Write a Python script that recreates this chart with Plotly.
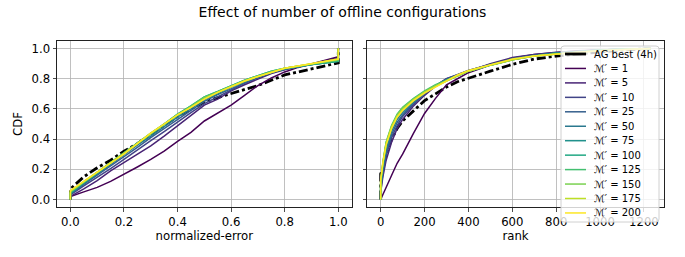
import plotly.graph_objects as go

# ---------------- data ----------------
series_names = ["AG best (4h)", "ℳ′ = 1", "ℳ′ = 5", "ℳ′ = 10", "ℳ′ = 25", "ℳ′ = 50",
                "ℳ′ = 75", "ℳ′ = 100", "ℳ′ = 125", "ℳ′ = 150", "ℳ′ = 175", "ℳ′ = 200"]
series_colors = ["#000000", "#440154", "#482475", "#414487", "#355f8d", "#2a788e",
                 "#21918c", "#22a884", "#44bf70", "#7ad151", "#bddf26", "#fde725"]

# left panel: normalized-error CDF
err_x = [0, 0, 0.05, 0.1, 0.15, 0.2, 0.25, 0.3, 0.35, 0.4, 0.45, 0.5, 0.55, 0.6,
         0.65, 0.7, 0.75, 0.8, 0.85, 0.9, 0.95, 1.0, 1.0]
err_ag = [0, 0.07, 0.15, 0.21, 0.26, 0.32, 0.37, 0.43, 0.49, 0.55, 0.60, 0.645, 0.675, 0.70,
          0.725, 0.755, 0.79, 0.825, 0.845, 0.866, 0.885, 0.905, 1.0]
err_m1 = [0, 0.02, 0.05, 0.08, 0.12, 0.165, 0.215, 0.265, 0.32, 0.385, 0.445, 0.52, 0.575, 0.625,
          0.69, 0.755, 0.805, 0.845, 0.875, 0.90, 0.925, 0.945, 1.0]
err_m5 = [0, 0.02, 0.07, 0.125, 0.19, 0.245, 0.30, 0.355, 0.42, 0.49, 0.56, 0.625, 0.665, 0.72,
          0.76, 0.80, 0.835, 0.86, 0.88, 0.90, 0.92, 0.935, 1.0]
err_m10 = [0, 0.03, 0.09, 0.145, 0.205, 0.265, 0.33, 0.39, 0.45, 0.515, 0.575, 0.635, 0.68, 0.725,
           0.77, 0.805, 0.84, 0.865, 0.88, 0.895, 0.91, 0.925, 1.0]
err_m25 = [0, 0.035, 0.10, 0.16, 0.225, 0.285, 0.345, 0.41, 0.47, 0.535, 0.595, 0.65, 0.695, 0.735,
           0.775, 0.81, 0.84, 0.865, 0.88, 0.895, 0.91, 0.92, 1.0]
err_m50 = [0, 0.04, 0.105, 0.17, 0.235, 0.295, 0.36, 0.42, 0.485, 0.545, 0.60, 0.66, 0.70, 0.745,
           0.78, 0.815, 0.845, 0.865, 0.88, 0.895, 0.905, 0.92, 1.0]
err_m75 = [0, 0.04, 0.11, 0.175, 0.24, 0.305, 0.37, 0.43, 0.495, 0.555, 0.61, 0.67, 0.71, 0.75,
           0.785, 0.815, 0.845, 0.865, 0.88, 0.895, 0.905, 0.915, 1.0]
err_m100 = [0, 0.045, 0.115, 0.18, 0.245, 0.31, 0.375, 0.44, 0.505, 0.565, 0.62, 0.68, 0.715, 0.755,
            0.79, 0.82, 0.85, 0.87, 0.885, 0.895, 0.905, 0.915, 1.0]
err_m125 = [0, 0.05, 0.115, 0.18, 0.25, 0.31, 0.375, 0.44, 0.50, 0.565, 0.62, 0.68, 0.715, 0.755,
            0.79, 0.82, 0.85, 0.87, 0.885, 0.90, 0.91, 0.92, 1.0]
err_m150 = [0, 0.05, 0.115, 0.18, 0.245, 0.305, 0.37, 0.435, 0.495, 0.56, 0.615, 0.675, 0.71, 0.75,
            0.785, 0.815, 0.845, 0.87, 0.885, 0.90, 0.91, 0.925, 1.0]
err_m175 = [0, 0.055, 0.12, 0.18, 0.245, 0.305, 0.37, 0.44, 0.50, 0.56, 0.61, 0.665, 0.71, 0.75,
            0.785, 0.815, 0.845, 0.87, 0.885, 0.90, 0.915, 0.93, 1.0]
err_m200 = [0, 0.06, 0.12, 0.18, 0.24, 0.30, 0.37, 0.44, 0.50, 0.56, 0.61, 0.665, 0.71, 0.75,
            0.785, 0.815, 0.845, 0.87, 0.885, 0.90, 0.915, 0.93, 1.0]

# right panel: rank CDF
rank_x = [0, 0, 10, 25, 50, 75, 100, 150, 200, 250, 300, 350, 400, 500, 600, 700, 800, 900,
          1000, 1100, 1230]
rank_ag = [0, 0.17, 0.20, 0.30, 0.40, 0.47, 0.52, 0.59, 0.655, 0.70, 0.745, 0.78, 0.805, 0.85,
           0.895, 0.93, 0.95, 0.965, 0.975, 0.99, 1.0]
rank_m1 = [0, 0, 0.03, 0.08, 0.16, 0.24, 0.30, 0.44, 0.57, 0.67, 0.76, 0.80, 0.84, 0.89,
           0.935, 0.96, 0.975, 0.985, 0.99, 0.995, 1.0]
rank_m5 = [0, 0.05, 0.15, 0.26, 0.38, 0.47, 0.53, 0.62, 0.69, 0.75, 0.80, 0.825, 0.855, 0.90,
           0.94, 0.96, 0.975, 0.985, 0.99, 0.995, 1.0]
rank_m10 = [0, 0.06, 0.17, 0.29, 0.41, 0.49, 0.55, 0.63, 0.70, 0.755, 0.80, 0.825, 0.855, 0.895,
            0.935, 0.955, 0.97, 0.98, 0.99, 0.995, 1.0]
rank_m25 = [0, 0.07, 0.19, 0.31, 0.43, 0.51, 0.56, 0.64, 0.70, 0.755, 0.795, 0.825, 0.855, 0.895,
            0.93, 0.955, 0.97, 0.98, 0.99, 0.995, 1.0]
rank_m50 = [0, 0.08, 0.21, 0.33, 0.45, 0.53, 0.575, 0.645, 0.705, 0.755, 0.79, 0.82, 0.85, 0.89,
            0.93, 0.95, 0.97, 0.98, 0.99, 0.995, 1.0]
rank_m75 = [0, 0.09, 0.22, 0.35, 0.47, 0.545, 0.59, 0.655, 0.71, 0.755, 0.79, 0.82, 0.85, 0.89,
            0.93, 0.95, 0.97, 0.98, 0.99, 0.995, 1.0]
rank_m100 = [0, 0.10, 0.23, 0.37, 0.48, 0.555, 0.60, 0.665, 0.715, 0.755, 0.79, 0.82, 0.85, 0.89,
             0.925, 0.95, 0.965, 0.98, 0.99, 0.995, 1.0]
rank_m125 = [0, 0.11, 0.24, 0.38, 0.49, 0.565, 0.61, 0.67, 0.72, 0.76, 0.79, 0.82, 0.85, 0.89,
             0.925, 0.95, 0.965, 0.98, 0.99, 0.995, 1.0]
rank_m150 = [0, 0.12, 0.25, 0.38, 0.49, 0.56, 0.605, 0.665, 0.715, 0.755, 0.785, 0.815, 0.85, 0.89,
             0.925, 0.95, 0.965, 0.975, 0.985, 0.995, 1.0]
rank_m175 = [0, 0.12, 0.24, 0.37, 0.48, 0.55, 0.595, 0.66, 0.71, 0.75, 0.785, 0.82, 0.85, 0.89,
             0.925, 0.95, 0.965, 0.975, 0.985, 0.992, 1.0]
rank_m200 = [0, 0.13, 0.24, 0.36, 0.47, 0.545, 0.59, 0.655, 0.705, 0.745, 0.785, 0.825, 0.855, 0.895,
             0.93, 0.95, 0.965, 0.975, 0.985, 0.992, 1.0]

err_series = [err_ag, err_m1, err_m5, err_m10, err_m25, err_m50, err_m75, err_m100,
              err_m125, err_m150, err_m175, err_m200]
rank_series = [rank_ag, rank_m1, rank_m5, rank_m10, rank_m25, rank_m50, rank_m75, rank_m100,
               rank_m125, rank_m150, rank_m175, rank_m200]

err_ticks = [0.0, 0.2, 0.4, 0.6, 0.8, 1.0]
rank_ticks = [0, 200, 400, 600, 800, 1000, 1200]
cdf_ticks = [0.0, 0.2, 0.4, 0.6, 0.8, 1.0]

# ---------------- layout constants ----------------
FONT = "DejaVu Sans"
W, H = 685, 257
ML, MR, MT, MB = 57, 21, 41, 50
PW, PH = W - ML - MR, H - MT - MB


def px_to_paper_x(px):
    return (px - ML) / PW


def px_to_paper_y(py):
    return (H - MB - py) / PH


AG_DASH = "9px,3px,3px,3px"

fig = go.Figure()

for axes, xs, ys_list in (("x", err_x, err_series), ("x2", rank_x, rank_series)):
    for i, (name, col) in enumerate(zip(series_names, series_colors)):
        if i == 0:
            line = dict(color=col, width=2.8, dash=AG_DASH)
        else:
            line = dict(color=col, width=1.5)
        fig.add_trace(go.Scatter(x=xs, y=ys_list[i], mode="lines", line=line, name=name,
                                 xaxis=axes, yaxis="y" if axes == "x" else "y2",
                                 showlegend=False, hoverinfo="skip"))

axis_common = dict(showline=True, linecolor="#222222", linewidth=1, mirror=True,
                   ticks="outside", ticklen=3.5, tickwidth=0.8, tickcolor="#222222",
                   showgrid=True, gridcolor="#b0b0b0", gridwidth=0.8, zeroline=False,
                   tickfont=dict(family=FONT, size=11.7, color="#000000"))

# ---------------- legend (matplotlib-style, drawn in paper coords) ----------------
LEG_L, LEG_R, LEG_T, LEG_B = 561, 659, 46, 222
ROW0, ROW_STEP = 54, 14.45
LINE_X0, LINE_X1, TEXT_X = 565, 586, 592

shapes = []
annotations = []
r = 3
x0, x1 = px_to_paper_x(LEG_L), px_to_paper_x(LEG_R)
y0, y1 = px_to_paper_y(LEG_B), px_to_paper_y(LEG_T)
rx, ry = r / PW, r / PH
path = (f"M {x0 + rx},{y0} L {x1 - rx},{y0} Q {x1},{y0} {x1},{y0 + ry} "
        f"L {x1},{y1 - ry} Q {x1},{y1} {x1 - rx},{y1} L {x0 + rx},{y1} "
        f"Q {x0},{y1} {x0},{y1 - ry} L {x0},{y0 + ry} Q {x0},{y0} {x0 + rx},{y0} Z")
shapes.append(dict(type="path", path=path, xref="paper", yref="paper", layer="above",
                   fillcolor="rgba(255,255,255,0.8)", line=dict(color="#d0d0d0", width=1)))
for i, (name, col) in enumerate(zip(series_names, series_colors)):
    yc = px_to_paper_y(ROW0 + i * ROW_STEP)
    shapes.append(dict(type="line", xref="paper", yref="paper", layer="above",
                       x0=px_to_paper_x(LINE_X0), x1=px_to_paper_x(LINE_X1), y0=yc, y1=yc,
                       line=dict(color=col, width=2.8 if i == 0 else 1.5)))
    annotations.append(dict(text=name, xref="paper", yref="paper", x=px_to_paper_x(TEXT_X),
                            y=yc, xanchor="left", yanchor="middle", showarrow=False,
                            font=dict(family=FONT, size=10, color="#000000")))

fig.update_layout(
    width=W, height=H,
    margin=dict(l=ML, r=MR, t=MT, b=MB),
    paper_bgcolor="white", plot_bgcolor="white",
    font=dict(family=FONT, color="#000000"),
    showlegend=False,
    title=dict(text="Effect of number of offline configurations", x=0.5, xref="container",
               xanchor="center", y=1 - 12.5 / H, yref="container", yanchor="middle",
               font=dict(family=FONT, size=14, color="#000000")),
    xaxis=dict(domain=[0, 0.4855], range=[-0.05, 1.05], tickvals=err_ticks, tickformat=".1f",
               title=dict(text="normalized-error", font=dict(family=FONT, size=11.7), standoff=2),
               anchor="y", **axis_common),
    yaxis=dict(domain=[0, 1], range=[-0.05, 1.05], tickvals=cdf_ticks, tickformat=".1f",
               title=dict(text="CDF", font=dict(family=FONT, size=11.7), standoff=6),
               anchor="x", **axis_common),
    xaxis2=dict(domain=[0.511, 1], range=[-61.5, 1291.5], tickvals=rank_ticks,
                title=dict(text="rank", font=dict(family=FONT, size=11.7), standoff=2),
                anchor="y2", **axis_common),
    yaxis2=dict(domain=[0, 1], range=[-0.05, 1.05], tickvals=cdf_ticks, showticklabels=False,
                anchor="x2", **axis_common),
    shapes=shapes,
    annotations=annotations,
)

fig.write_html("out.html", config={"displayModeBar": False, "staticPlot": True},
               post_script="document.body.style.margin='0';")
